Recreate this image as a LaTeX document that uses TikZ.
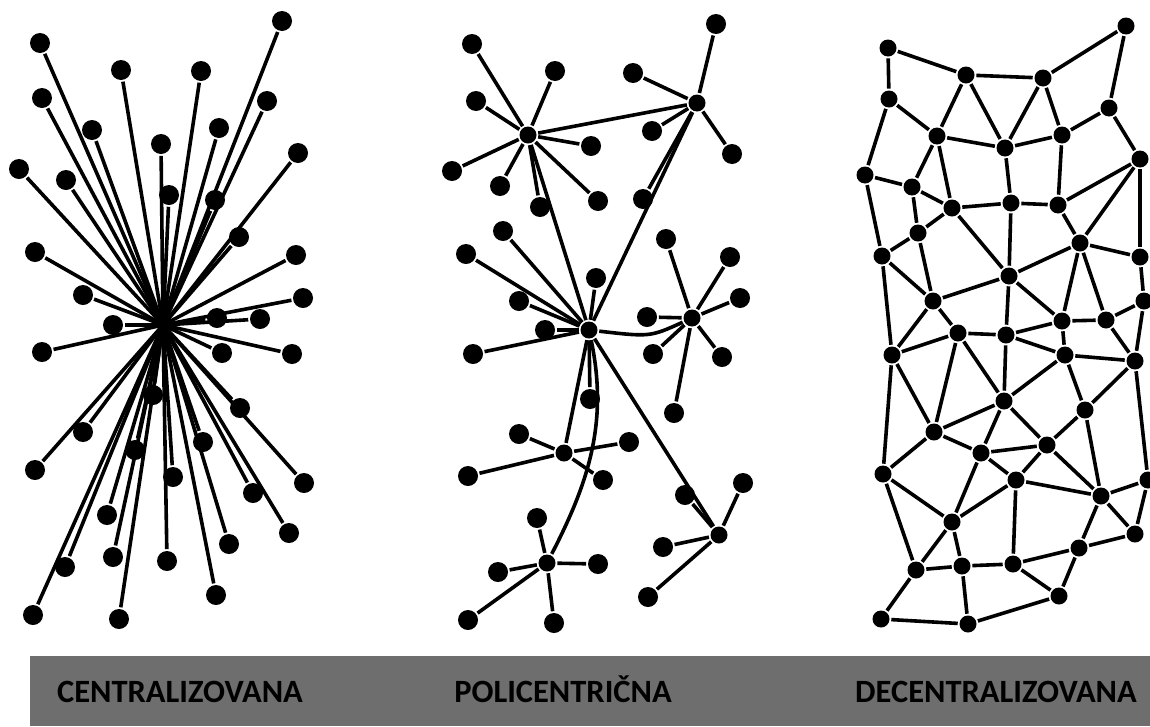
\documentclass[tikz,border=0pt]{standalone}
\usepackage{fontspec}
\setmainfont{Carlito}
\definecolor{bargray}{HTML}{6E6E6E}
\begin{document}
\begin{tikzpicture}[x=1pt,y=-1pt,line width=3.6pt,>=latex]
	\tikzstyle{leaf}=[circle,fill=black,
	minimum size=20pt,
	inner sep=0pt
	]
	\tikzstyle{hub}=[leaf, minimum size=17pt];
	\tikzstyle{core}=[leaf, minimum size=10pt];
	\tikzstyle{cell}=[leaf, minimum size=17pt];
	\tikzstyle{lbl}=[anchor=base,font=\bfseries\fontsize{32.5}{38}\selectfont];

\useasboundingbox (0,0) rectangle (1150,726);

% centralizovana
\node[core](c0) at (163,325){};
\node[leaf](c1) at (282,21){};   \node[leaf](c2) at (40,43){};    \node[leaf](c3) at (121,70){};
\node[leaf](c4) at (201,71){};   \node[leaf](c5) at (42,98){};    \node[leaf](c6) at (267,101){};
\node[leaf](c7) at (92,130){};   \node[leaf](c8) at (219,128){};  \node[leaf](c9) at (161,144){};
\node[leaf](c10) at (19,169){};  \node[leaf](c11) at (66,180){};  \node[leaf](c12) at (298,153){};
\node[leaf](c13) at (169,195){}; \node[leaf](c14) at (215,200){}; \node[leaf](c15) at (239,237){};
\node[leaf](c16) at (35,252){};  \node[leaf](c17) at (296,255){}; \node[leaf](c18) at (83,295){};
\node[leaf](c19) at (303,298){}; \node[leaf](c20) at (113,325){}; \node[leaf](c21) at (217,318){};
\node[leaf](c22) at (260,319){}; \node[leaf](c23) at (42,352){};  \node[leaf](c24) at (222,353){};
\node[leaf](c25) at (292,354){}; \node[leaf](c26) at (240,408){}; \node[leaf](c27) at (153,395){};
\node[leaf](c28) at (83,432){};  \node[leaf](c29) at (203,442){}; \node[leaf](c30) at (135,450){};
\node[leaf](c31) at (35,470){};  \node[leaf](c32) at (173,477){}; \node[leaf](c33) at (304,483){};
\node[leaf](c34) at (253,493){}; \node[leaf](c35) at (107,515){}; \node[leaf](c36) at (289,533){};
\node[leaf](c37) at (229,544){}; \node[leaf](c38) at (113,557){}; \node[leaf](c39) at (167,561){};
\node[leaf](c40) at (65,567){};  \node[leaf](c41) at (216,595){}; \node[leaf](c42) at (33,615){};
\node[leaf](c43) at (119,619){};
\foreach \i in {1,...,43} \draw (c0.center) -- (c\i);

% policentricna
\node[hub](pa) at (528,135){};
\node[hub](pb) at (697,103){};
\node[hub](pc) at (589,330){};
\node[hub](pd) at (692,318){};
\node[hub](pe) at (564,453){};
\node[hub](pf) at (547,563){};
\node[hub](pg) at (719,535){};

\node[leaf](pa1) at (472,44){};  \node[leaf](pa2) at (555,71){};  \node[leaf](pa3) at (476,101){};
\node[leaf](pa4) at (591,146){}; \node[leaf](pa5) at (452,171){}; \node[leaf](pa6) at (500,186){};
\node[leaf](pa7) at (540,207){}; \node[leaf](pa8) at (598,201){};
\node[leaf](pb1) at (716,24){};  \node[leaf](pb2) at (633,73){};  \node[leaf](pb3) at (652,131){};
\node[leaf](pb4) at (732,154){}; \node[leaf](pb5) at (643,199){};
\node[leaf](pc1) at (503,231){}; \node[leaf](pc2) at (466,254){}; \node[leaf](pc3) at (596,278){};
\node[leaf](pc4) at (519,301){}; \node[leaf](pc5) at (545,330){}; \node[leaf](pc6) at (473,354){};
\node[leaf](pc7) at (590,399){};
\node[leaf](pd1) at (666,239){}; \node[leaf](pd2) at (730,257){}; \node[leaf](pd3) at (740,298){};
\node[leaf](pd4) at (647,317){}; \node[leaf](pd5) at (653,354){}; \node[leaf](pd6) at (722,357){};
\node[leaf](pd7) at (674,413){};
\node[leaf](pe1) at (519,434){}; \node[leaf](pe2) at (629,442){}; \node[leaf](pe3) at (468,476){};
\node[leaf](pe4) at (603,480){};
\node[leaf](pf1) at (537,518){}; \node[leaf](pf2) at (498,572){}; \node[leaf](pf3) at (598,564){};
\node[leaf](pf4) at (468,620){}; \node[leaf](pf5) at (554,623){};
\node[leaf](pg1) at (743,483){}; \node[leaf](pg2) at (685,495){}; \node[leaf](pg3) at (663,547){};
\node[leaf](pg4) at (648,597){};

\foreach \h/\n in {a/8,b/5,c/7,d/7,e/4,f/5,g/4}
	\foreach \i in {1,...,\n} \draw (p\h) -- (p\h\i);
\draw (pa) -- (pb);
\draw (pa) -- (pc);
\draw (pb) -- (pc);
\draw (pc) -- (pe);
\draw (pc) -- (pg);
\draw (pc) .. controls (650,337) .. (pd);
\draw (pc) .. controls (608,420) and (590,480) .. (pf);

% decentralizovana
\node[cell](d1) at (888,48){};   \node[cell](d2) at (1126,26){};  \node[cell](d3) at (966,75){};
\node[cell](d4) at (1043,78){};  \node[cell](d5) at (889,99){};   \node[cell](d6) at (1109,108){};
\node[cell](d7) at (937,136){};  \node[cell](d8) at (1062,135){}; \node[cell](d9) at (1005,148){};
\node[cell](d10) at (1140,159){};\node[cell](d11) at (865,175){}; \node[cell](d12) at (912,187){};
\node[cell](d13) at (952,208){}; \node[cell](d14) at (1011,203){};\node[cell](d15) at (1058,205){};
\node[cell](d16) at (918,233){}; \node[cell](d17) at (1080,243){};\node[cell](d18) at (882,256){};
\node[cell](d19) at (1140,257){};\node[cell](d20) at (1009,276){};\node[cell](d21) at (933,301){};
\node[cell](d22) at (1144,301){};\node[cell](d23) at (1062,321){};\node[cell](d24) at (1106,320){};
\node[cell](d25) at (958,333){}; \node[cell](d26) at (1006,335){};\node[cell](d27) at (892,355){};
\node[cell](d28) at (1065,355){};\node[cell](d29) at (1135,361){};\node[cell](d30) at (1004,401){};
\node[cell](d31) at (1085,410){};\node[cell](d32) at (934,432){}; \node[cell](d33) at (1047,445){};
\node[cell](d34) at (981,453){}; \node[cell](d35) at (883,474){}; \node[cell](d36) at (1016,480){};
\node[cell](d37) at (1101,496){};\node[cell](d38) at (1148,480){};\node[cell](d39) at (952,522){};
\node[cell](d40) at (1135,534){};\node[cell](d41) at (1079,548){};\node[cell](d42) at (916,570){};
\node[cell](d43) at (962,566){}; \node[cell](d44) at (1013,564){};\node[cell](d45) at (1059,596){};
\node[cell](d46) at (881,619){}; \node[cell](d47) at (968,624){};

\foreach \a/\b in {1/3,1/5,3/4,4/2,2/6,3/7,3/9,4/9,4/8,5/7,5/11,7/9,9/8,8/6,6/10,
	7/12,7/13,11/12,12/13,9/14,8/15,13/14,14/15,15/10,10/17,10/19,
	12/16,13/16,11/18,16/18,16/21,18/21,18/27,13/20,14/20,15/17,17/20,17/19,
	19/22,17/23,17/24,20/21,20/26,20/23,21/25,21/27,27/25,25/26,26/23,23/24,
	24/22,24/29,22/29,23/28,26/28,28/29,25/30,26/30,28/30,28/31,29/31,
	27/32,25/32,27/35,30/32,30/34,30/33,31/33,31/37,29/38,32/35,32/34,34/33,
	34/36,33/36,33/37,36/37,37/38,37/40,38/40,35/39,35/42,34/39,36/39,36/44,
	39/42,39/43,42/43,43/44,44/41,41/40,41/37,44/45,41/45,42/46,43/47,46/47,47/45}
	\draw (d\a) -- (d\b);

% bar
\fill[bargray] (30,656) rectangle (1150,726);
\node[lbl](t1) at (180,702){CENTRALIZOVANA};
\node[lbl](t2) at (563,702){POLICENTRIČNA};
\node[lbl](t3) at (996,702){DECENTRALIZOVANA};

\end{tikzpicture}
\end{document}
